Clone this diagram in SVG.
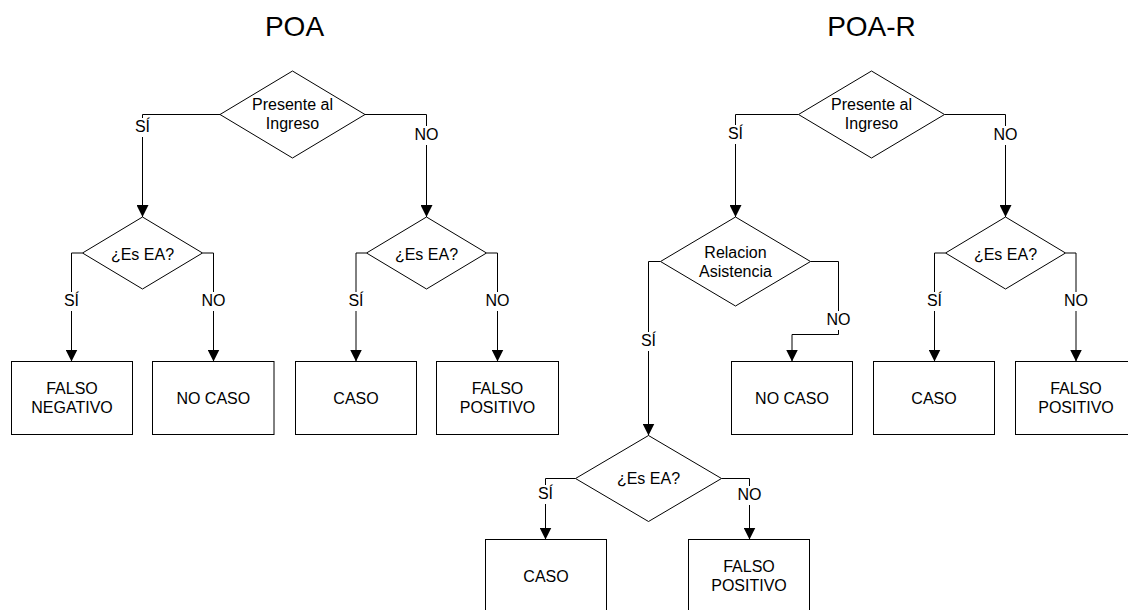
<svg xmlns="http://www.w3.org/2000/svg" width="1128" height="610" viewBox="0 0 1128 610">
<style>
text{font-family:"Liberation Sans",Arial,sans-serif;fill:#000;text-anchor:middle}
.title{font-size:28px}
.t{font-size:16px}
.shape{fill:#fff;stroke:#000;stroke-width:1}
.conn{fill:none;stroke:#000;stroke-width:1}
.lbg{fill:#fff;stroke:none}
</style>
<defs>
<marker id="arr" markerUnits="userSpaceOnUse" markerWidth="12" markerHeight="12" refX="12" refY="6" orient="auto">
<path d="M0,0 L12,6 L0,12 Z" fill="#000"/>
</marker>
</defs>
<rect width="1128" height="610" fill="#fff"/>
<text class="title" x="294.5" y="36">POA</text>
<text class="title" x="871.5" y="36">POA-R</text>

<g id="connectors">
<path class="conn" d="M220,114.5 H142.5 V217" marker-end="url(#arr)"/>
<path class="conn" d="M365,114.5 H426.5 V217" marker-end="url(#arr)"/>
<path class="conn" d="M82.5,253 H71.5 V361.5" marker-end="url(#arr)"/>
<path class="conn" d="M202.5,253 H213.5 V361.5" marker-end="url(#arr)"/>
<path class="conn" d="M366.5,253 H356 V361.5" marker-end="url(#arr)"/>
<path class="conn" d="M486.5,253 H497.5 V361.5" marker-end="url(#arr)"/>
<path class="conn" d="M798.5,114.5 H735.5 V217" marker-end="url(#arr)"/>
<path class="conn" d="M944.5,114.5 H1005.5 V217" marker-end="url(#arr)"/>
<path class="conn" d="M660.5,261.5 H648.5 V435.5" marker-end="url(#arr)"/>
<path class="conn" d="M810.5,261.5 H838.5 V334.5 H792 V361.5" marker-end="url(#arr)"/>
<path class="conn" d="M945.5,253 H934.5 V361.5" marker-end="url(#arr)"/>
<path class="conn" d="M1065.5,253 H1076 V361.5" marker-end="url(#arr)"/>
<path class="conn" d="M575.5,478.5 H545.5 V539.5" marker-end="url(#arr)"/>
<path class="conn" d="M721.5,478.5 H749.5 V539.5" marker-end="url(#arr)"/>
<g id="labels">
<rect class="lbg" x="134" y="118" width="17" height="19"/><text class="t" x="142.5" y="131.5">SÍ</text>
<rect class="lbg" x="413" y="126" width="27" height="19"/><text class="t" x="426.5" y="140">NO</text>
<rect class="lbg" x="63" y="292" width="17" height="19"/><text class="t" x="71.5" y="306">SÍ</text>
<rect class="lbg" x="200" y="292" width="27" height="19"/><text class="t" x="213.5" y="306">NO</text>
<rect class="lbg" x="347.5" y="292" width="17" height="19"/><text class="t" x="356" y="306">SÍ</text>
<rect class="lbg" x="484" y="292" width="27" height="19"/><text class="t" x="497.5" y="306">NO</text>
<rect class="lbg" x="727" y="125" width="17" height="19"/><text class="t" x="735.5" y="139">SÍ</text>
<rect class="lbg" x="992" y="126" width="27" height="19"/><text class="t" x="1005.5" y="140">NO</text>
<rect class="lbg" x="640" y="332" width="17" height="19"/><text class="t" x="648.5" y="346">SÍ</text>
<rect class="lbg" x="825" y="311" width="27" height="19"/><text class="t" x="838.5" y="325">NO</text>
<rect class="lbg" x="926" y="292" width="17" height="19"/><text class="t" x="934.5" y="306">SÍ</text>
<rect class="lbg" x="1062.5" y="292" width="27" height="19"/><text class="t" x="1076" y="306">NO</text>
<rect class="lbg" x="537" y="485" width="17" height="19"/><text class="t" x="545.5" y="499">SÍ</text>
<rect class="lbg" x="736" y="486" width="27" height="19"/><text class="t" x="749.5" y="500">NO</text>
</g>
</g>

<g id="poa-presente">
<polygon class="shape" points="292.5,71 365,114.5 292.5,158 220,114.5"/>
<text class="t" x="292.5" y="110">Presente al</text>
<text class="t" x="292.5" y="129">Ingreso</text>
</g>
<g id="poa-ea-si">
<polygon class="shape" points="142.5,217 202.5,253 142.5,289 82.5,253"/>
<text class="t" x="142.5" y="259.5">¿Es EA?</text>
</g>
<g id="poa-ea-no">
<polygon class="shape" points="426.5,217 486.5,253 426.5,289 366.5,253"/>
<text class="t" x="426.5" y="259.5">¿Es EA?</text>
</g>
<g id="poa-falso-negativo">
<rect class="shape" x="11.5" y="361.5" width="121" height="73"/>
<text class="t" x="72" y="393.5">FALSO</text>
<text class="t" x="72" y="413">NEGATIVO</text>
</g>
<g id="poa-no-caso">
<rect class="shape" x="152.5" y="361.5" width="121.5" height="73"/>
<text class="t" x="213.3" y="403.5">NO CASO</text>
</g>
<g id="poa-caso">
<rect class="shape" x="295.5" y="361.5" width="121" height="73"/>
<text class="t" x="356" y="403.5">CASO</text>
</g>
<g id="poa-falso-positivo">
<rect class="shape" x="436.5" y="361.5" width="122" height="73"/>
<text class="t" x="497.5" y="393.5">FALSO</text>
<text class="t" x="497.5" y="413">POSITIVO</text>
</g>

<g id="poar-presente">
<polygon class="shape" points="871.5,71 944.5,114.5 871.5,158 798.5,114.5"/>
<text class="t" x="871.5" y="110">Presente al</text>
<text class="t" x="871.5" y="129">Ingreso</text>
</g>
<g id="poar-relacion">
<polygon class="shape" points="735.5,217 810.5,261.5 735.5,306 660.5,261.5"/>
<text class="t" x="735.5" y="258">Relacion</text>
<text class="t" x="735.5" y="277">Asistencia</text>
</g>
<g id="poar-ea-no">
<polygon class="shape" points="1005.5,217 1065.5,253 1005.5,289 945.5,253"/>
<text class="t" x="1005.5" y="259.5">¿Es EA?</text>
</g>
<g id="poar-no-caso">
<rect class="shape" x="731.5" y="361.5" width="121" height="73"/>
<text class="t" x="792" y="403.5">NO CASO</text>
</g>
<g id="poar-caso">
<rect class="shape" x="873.5" y="361.5" width="121" height="73"/>
<text class="t" x="934" y="403.5">CASO</text>
</g>
<g id="poar-falso-positivo">
<rect class="shape" x="1015.5" y="361.5" width="121" height="73"/>
<text class="t" x="1076" y="393.5">FALSO</text>
<text class="t" x="1076" y="413">POSITIVO</text>
</g>
<g id="poar-ea-si">
<polygon class="shape" points="648.5,435.5 721.5,478.5 648.5,521.5 575.5,478.5"/>
<text class="t" x="648.5" y="484">¿Es EA?</text>
</g>
<g id="poar-caso-2">
<rect class="shape" x="485.5" y="539.5" width="121" height="73"/>
<text class="t" x="546" y="581.5">CASO</text>
</g>
<g id="poar-falso-positivo-2">
<rect class="shape" x="688.5" y="539.5" width="121" height="73"/>
<text class="t" x="749" y="571.5">FALSO</text>
<text class="t" x="749" y="591">POSITIVO</text>
</g>
</svg>
